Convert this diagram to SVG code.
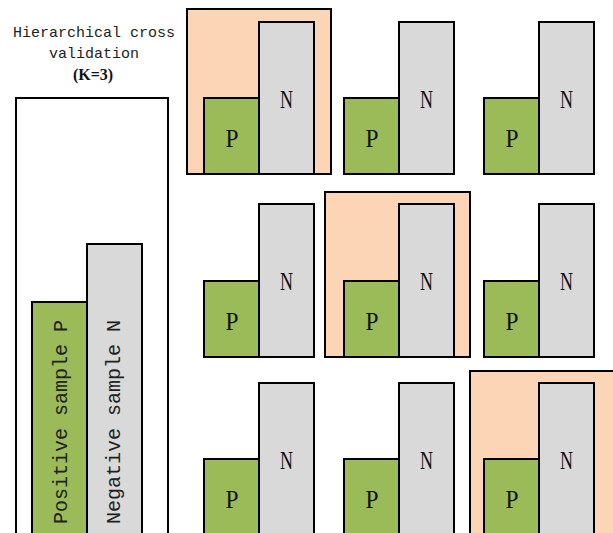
<svg xmlns="http://www.w3.org/2000/svg" width="613" height="533" viewBox="0 0 613 533">
<style>
.fold{fill:#FBD5B5;stroke:#000;stroke-width:2}
.p{fill:#9BBB59;stroke:#000;stroke-width:2}
.n{fill:#D9D9D9;stroke:#000;stroke-width:2}
.box{fill:#FFFFFF;stroke:#000;stroke-width:2}
.lbl{font-family:"Liberation Serif",serif;font-size:26px;fill:#111;text-anchor:middle}
.title{font-family:"Liberation Mono",monospace;font-size:15px;fill:#222;text-anchor:middle}
.vt{font-family:"Liberation Mono",monospace;font-size:20px;fill:#222;text-anchor:middle}
</style>
<rect width="613" height="533" fill="#FFFFFF"/>
<g id="title">
<text class="title" x="94" y="37">Hierarchical cross</text>
<text class="title" x="94" y="58">validation</text>
<text x="93" y="80" font-family="Liberation Serif,serif" font-size="16" font-weight="bold" fill="#111" text-anchor="middle">(K=3)</text>
</g>
<g id="dataset">
<rect class="box" x="16" y="98" width="152" height="450"/>
<rect class="p" x="32" y="302" width="55" height="250"/>
<rect class="n" x="87" y="244" width="55" height="310"/>
<text class="vt" transform="translate(67,422) rotate(-90)">Positive sample P</text>
<text class="vt" transform="translate(120,422) rotate(-90)">Negative sample N</text>
</g>
<g id="folds-bg">
<rect class="fold" x="187" y="9" width="144" height="165"/>
<rect class="fold" x="325" y="192" width="145" height="165"/>
<rect class="fold" x="470" y="371" width="150" height="170"/>
</g>
<g id="r1c1"><rect class="p" x="204" y="98" width="55" height="76"/><rect class="n" x="259" y="22" width="55" height="152"/><text class="lbl" x="232" y="147" textLength="13" lengthAdjust="spacingAndGlyphs">P</text><text class="lbl" x="286.5" y="108" textLength="13" lengthAdjust="spacingAndGlyphs">N</text></g>
<g id="r1c2"><rect class="p" x="344" y="98" width="55" height="76"/><rect class="n" x="399" y="22" width="55" height="152"/><text class="lbl" x="372" y="147" textLength="13" lengthAdjust="spacingAndGlyphs">P</text><text class="lbl" x="426.5" y="108" textLength="13" lengthAdjust="spacingAndGlyphs">N</text></g>
<g id="r1c3"><rect class="p" x="484" y="98" width="55" height="76"/><rect class="n" x="539" y="22" width="55" height="152"/><text class="lbl" x="512" y="147" textLength="13" lengthAdjust="spacingAndGlyphs">P</text><text class="lbl" x="566.5" y="108" textLength="13" lengthAdjust="spacingAndGlyphs">N</text></g>
<g id="r2c1"><rect class="p" x="204" y="281" width="55" height="76"/><rect class="n" x="259" y="204" width="55" height="153"/><text class="lbl" x="232" y="330" textLength="13" lengthAdjust="spacingAndGlyphs">P</text><text class="lbl" x="286.5" y="290" textLength="13" lengthAdjust="spacingAndGlyphs">N</text></g>
<g id="r2c2"><rect class="p" x="344" y="281" width="55" height="76"/><rect class="n" x="399" y="204" width="55" height="153"/><text class="lbl" x="372" y="330" textLength="13" lengthAdjust="spacingAndGlyphs">P</text><text class="lbl" x="426.5" y="290" textLength="13" lengthAdjust="spacingAndGlyphs">N</text></g>
<g id="r2c3"><rect class="p" x="484" y="281" width="55" height="76"/><rect class="n" x="539" y="204" width="55" height="153"/><text class="lbl" x="512" y="330" textLength="13" lengthAdjust="spacingAndGlyphs">P</text><text class="lbl" x="566.5" y="290" textLength="13" lengthAdjust="spacingAndGlyphs">N</text></g>
<g id="r3c1"><rect class="p" x="204" y="459" width="55" height="90"/><rect class="n" x="259" y="383" width="55" height="170"/><text class="lbl" x="232" y="508" textLength="13" lengthAdjust="spacingAndGlyphs">P</text><text class="lbl" x="286.5" y="469" textLength="13" lengthAdjust="spacingAndGlyphs">N</text></g>
<g id="r3c2"><rect class="p" x="344" y="459" width="55" height="90"/><rect class="n" x="399" y="383" width="55" height="170"/><text class="lbl" x="372" y="508" textLength="13" lengthAdjust="spacingAndGlyphs">P</text><text class="lbl" x="426.5" y="469" textLength="13" lengthAdjust="spacingAndGlyphs">N</text></g>
<g id="r3c3"><rect class="p" x="484" y="459" width="55" height="90"/><rect class="n" x="539" y="383" width="55" height="170"/><text class="lbl" x="512" y="508" textLength="13" lengthAdjust="spacingAndGlyphs">P</text><text class="lbl" x="566.5" y="469" textLength="13" lengthAdjust="spacingAndGlyphs">N</text></g>
<g id="connectors"/>
</svg>
